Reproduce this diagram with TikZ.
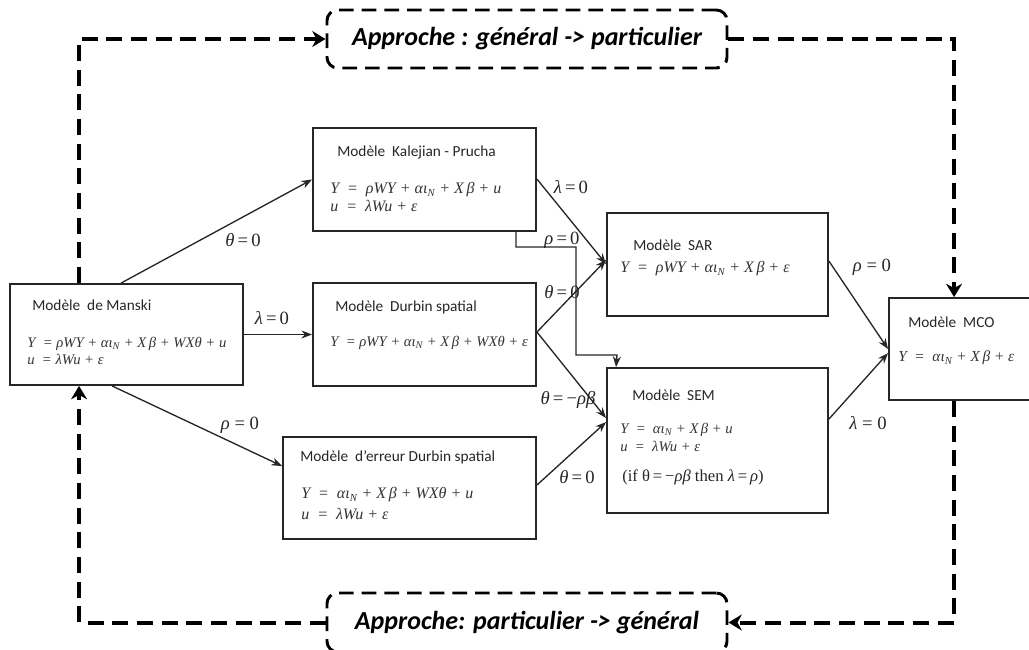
\documentclass[tikz,border=0pt]{standalone}
\usepackage{fontspec}
\setmainfont{Liberation Serif}
\newfontfamily\calibri{Carlito}
\usetikzlibrary{arrows.meta}

\tikzset{
  px/.style 2 args={minimum width=#1*0.75pt, minimum height=#2*0.75pt},
  modelbox/.style={rectangle, draw=black!85, line width=1.4pt, inner sep=0pt},
  approachbox/.style={rectangle, draw=black, line width=2.2pt, dash pattern=on 11pt off 6pt,
    rounded corners=8pt, inner sep=0pt, font=\calibri\bfseries\itshape\fontsize{19.5}{22}\selectfont},
  mtitle/.style={anchor=west, inner sep=0pt, text=black!85, font=\calibri\fontsize{11.5}{13}\selectfont},
  eq/.style={anchor=west, inner sep=0pt, text=black!80, font=\itshape\fontsize{#1}{#1}\selectfont},
  cond/.style={anchor=west, inner sep=0pt, text=black!85, font=\fontsize{12.5}{12.5}\selectfont},
  lab/.style={inner sep=0pt, text=black!85, font=\fontsize{14}{14}\selectfont},
  conn/.style={draw=black!85, line width=1pt, -{Stealth[length=8pt,width=6pt]}},
  dconn/.style={draw=black, line width=3pt, dash pattern=on 12pt off 6.5pt,
    -{Stealth[length=10pt,width=12pt]}},
}

\begin{document}
\begin{tikzpicture}[x=0.75pt, y=-0.75pt]
\useasboundingbox (0,0) rectangle (1029,650);
\clip (0,0) rectangle (1029,650);

% model boxes
\node[modelbox, px={233}{101}] (manski) at (126.5,334.5) {};
\node[modelbox, px={223}{103}] (kp)     at (424.5,179.5) {};
\node[modelbox, px={223}{103}] (durbin) at (424.5,334.5) {};
\node[modelbox, px={253}{102}] (derr)   at (409.5,488) {};
\node[modelbox, px={221}{103}] (sar)    at (717.5,264.5) {};
\node[modelbox, px={221}{145}] (sem)    at (717.5,440.5) {};
\node[modelbox, px={151}{102}] (mco)    at (964.5,349) {};

% approach boxes
\node[approachbox, px={400}{58}] (topbox) at (527,39) {Approche : général -> particulier};
\node[approachbox, px={400}{59}] (botbox) at (527,622.5) {Approche: particulier -> général};

% box contents
\node[mtitle] (manskiT) at (32,305) {Modèle~ de Manski};
\node[eq=11] (manskiY) at (27,344) {Y ~= ρWY + αι\textsubscript{N} + X\,β + WXθ + u};
\node[eq=11] (manskiU) at (27,359) {u ~= λWu + ε};

\node[mtitle] (kpT) at (337,152) {Modèle~ Kalejian - Prucha};
\node[eq=12] (kpY) at (330,190) {Y ~=~ ρWY + αι\textsubscript{N} + X\,β + u};
\node[eq=12] (kpU) at (330,206) {u ~=~ λWu + ε};

\node[mtitle] (durbinT) at (335,307) {Modèle~ Durbin spatial};
\node[eq=11] (durbinY) at (330,343) {Y ~= ρWY + αι\textsubscript{N} + X\,β + WXθ + ε};

\node[mtitle] (derrT) at (300,457) {Modèle~ d’erreur Durbin spatial};
\node[eq=12] (derrY) at (301,495) {Y ~=~ αι\textsubscript{N} + X\,β + WXθ + u};
\node[eq=12] (derrU) at (301,514) {u ~=~ λWu + ε};

\node[mtitle] (sarT) at (633,245) {Modèle~ SAR};
\node[eq=12] (sarY) at (620,269) {Y ~=~ ρWY + αι\textsubscript{N} + X\,β + ε};

\node[mtitle] (semT) at (632,395) {Modèle~ SEM};
\node[eq=11] (semY) at (620,430) {Y ~=~ αι\textsubscript{N} + X\,β + u};
\node[eq=11] (semU) at (620,446) {u ~=~ λWu + ε};
\node[cond] (semC) at (622,477) {(if θ\,=\,−\textit{ρβ} then \textit{λ}\,=\,\textit{ρ})};

\node[mtitle] (mcoT) at (908,322) {Modèle~ MCO};
\node[eq=11.5] (mcoY) at (898,358) {Y ~=~ αι\textsubscript{N} + X\,β + ε};

% restriction arrows
\draw[conn] ([shift={(112,0)}]manski.north west) -- (kp.west);
\draw[conn] (manski.east) -- (durbin.west);
\draw[conn] ([shift={(103,0)}]manski.south west) -- ([shift={(0,30)}]derr.north west);
\draw[conn] ([shift={(0,52)}]kp.north east) -- ([shift={(0,52)}]sar.north west);
\draw[conn] ([shift={(0,50)}]durbin.north east) -- ([shift={(0,48)}]sar.north west);
\draw[conn] ([shift={(0,50)}]durbin.north east) -- ([shift={(0,51)}]sem.north west);
\draw[conn] ([shift={(0,49)}]derr.north east) -- ([shift={(0,55)}]sem.north west);
\coordinate (kpsemA) at (576,247);
\coordinate (kpsemB) at (617,355);
\draw[conn] ([shift={(-21,0)}]kp.south east) |- (kpsemA) |- (kpsemB) -- ([shift={(10,0)}]sem.north west);
\draw[conn] ([shift={(0,49)}]sar.north east) -- ([shift={(0,52)}]mco.north west);
\draw[conn] ([shift={(0,52)}]sem.north east) -- ([shift={(0,56)}]mco.north west);

% restriction labels
\node[lab] (l1)  at (243,240) {\textit{θ}\,=\,0};
\node[lab] (l2)  at (272,318) {\textit{λ}\,=\,0};
\node[lab] (l3)  at (240,425) {\textit{ρ} = 0};
\node[lab] (l4)  at (571,187) {\textit{λ}\,=\,0};
\node[lab] (l5)  at (562,240) {\textit{ρ}\,=\,0};
\node[lab] (l6)  at (562,292) {\textit{θ}\,=\,0};
\node[lab] (l7)  at (568,400) {\textit{θ}\,=\,−\textit{ρβ}};
\node[lab] (l8)  at (577,477) {\textit{θ}\,=\,0};
\node[lab] (l9)  at (872,267) {\textit{ρ} = 0};
\node[lab] (l10) at (868,423) {\textit{λ} = 0};

% approach loops
\draw[dconn] ([shift={(70,0)}]manski.north west) |- (topbox.west);
\draw[dconn] (topbox.east) -| ([shift={(66,0)}]mco.north west);
\draw[dconn] ([shift={(66,0)}]mco.south west) |- (botbox.east);
\draw[dconn] (botbox.west) -| ([shift={(70,0)}]manski.south west);
\end{tikzpicture}
\end{document}
